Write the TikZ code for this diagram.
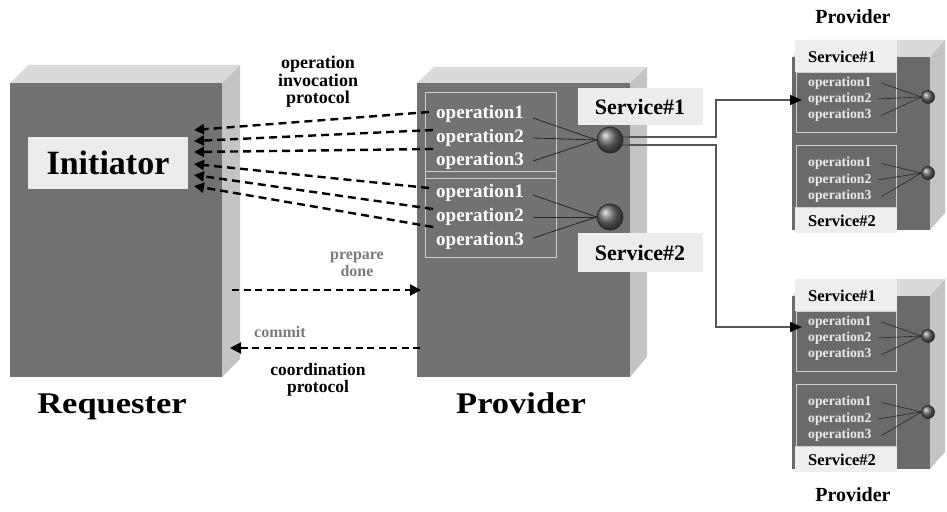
\documentclass[tikz,border=0pt]{standalone}
\usepackage{fontspec}
\usepackage{graphicx}
\setmainfont{Liberation Serif}
\usetikzlibrary{arrows.meta}
\definecolor{frontgray}{HTML}{727272}
\definecolor{topgray}{HTML}{DADADA}
\definecolor{sidegray}{HTML}{C4C4C4}
\definecolor{labelgray}{HTML}{ECECEC}
\definecolor{opsgray}{HTML}{CFCFCF}
\definecolor{rfront}{HTML}{6A6A6A}
\definecolor{panelgray}{HTML}{EEEEEE}
\definecolor{conngray}{HTML}{555555}
\definecolor{notegray}{HTML}{7A7A7A}
\begin{document}
\begin{tikzpicture}[x=1pt,y=-1pt,
  txt/.style={inner sep=0pt, font=\bfseries},
  optxt/.style={inner sep=0pt, text=white, anchor=west, font=\bfseries\fontsize{19}{19}\selectfont},
  roptxt/.style={inner sep=0pt, text=white!92!black, anchor=west, font=\bfseries\fontsize{13.7}{13.7}\selectfont},
  labelbox/.style={fill=labelgray, inner sep=0pt},
  opsline/.style={draw=opsgray, line width=1pt},
  ballnode/.style={circle, draw=black!85, line width=0.8pt, shading=ball, ball color=gray!85!black, inner sep=0pt},
  wire/.style={draw=black!85, line width=0.8pt},
  dasharrow/.style={draw=black, line width=2.4pt, dash pattern=on 8pt off 5pt, -{Triangle[length=10pt,width=10pt]}},
  dasharrowb/.style={draw=black, line width=2.2pt, dash pattern=on 7pt off 4.5pt, -{Triangle[length=11pt,width=11pt]}},
  conn/.style={draw=conngray, line width=1.3pt, -{Triangle[length=12pt,width=10pt,color=black]}},
]
\useasboundingbox (0,0) rectangle (947,511);

% ---------- Requester box ----------
\fill[topgray] (10,83) -- (28,65) -- (240,65) -- (222,83) -- cycle;
\fill[sidegray] (222,83) -- (240,65) -- (240,359) -- (222,377) -- cycle;
\fill[frontgray] (10,83) rectangle (222,377);
\node[labelbox, minimum width=160pt, minimum height=52pt, font=\bfseries\fontsize{34}{34}\selectfont] (init) at (108,163) {Initiator};

% ---------- Provider box (middle) ----------
\fill[topgray] (417,83) -- (434,67) -- (647,67) -- (630,83) -- cycle;
\fill[sidegray] (630,83) -- (647,67) -- (647,357) -- (630,377) -- cycle;
\fill[frontgray] (417,83) rectangle (630,377);
\draw[opsline] (425,92) rectangle (556,257);
\draw[opsline] (425,171) -- (556,171);
\draw[opsline] (425,178) -- (556,178);

\node[optxt] (ma1) at (436,114) {operation1};
\node[optxt] (ma2) at (436,138) {operation2};
\node[optxt] (ma3) at (436,161) {operation3};
\node[optxt] (mb1) at (436,193) {operation1};
\node[optxt] (mb2) at (436,217) {operation2};
\node[optxt] (mb3) at (436,241) {operation3};

\node[ballnode, minimum size=26pt] (sa) at (610,140) {};
\node[ballnode, minimum size=26pt] (sb) at (610,217) {};

\draw[wire] ([xshift=9pt,yshift=-4pt]ma1.east) -- (sa.west);
\draw[wire] ([xshift=9pt]ma2.east) -- (sa.west);
\draw[wire] ([xshift=9pt]ma3.east) -- (sa.west);
\draw[wire] ([xshift=9pt,yshift=-2pt]mb1.east) -- (sb.west);
\draw[wire] ([xshift=9pt]mb2.east) -- (sb.west);
\draw[wire] ([xshift=9pt,yshift=3pt]mb3.east) -- (sb.west);

\node[labelbox, minimum width=125pt, minimum height=37pt, font=\bfseries\fontsize{22}{22}\selectfont] (sv1) at (640,106.5) {Service\#1};
\node[labelbox, minimum width=125pt, minimum height=39pt, font=\bfseries\fontsize{22}{22}\selectfont] (sv2) at (640,252.5) {Service\#2};

% ---------- Right providers ----------
\foreach \dy/\n in {0/a,239/b}{
  \begin{scope}[shift={(0,\dy)}]
    \fill[topgray] (792,57) -- (809,40) -- (945,40) -- (930,57) -- cycle;
    \fill[sidegray] (930,57) -- (945,40) -- (945,213) -- (930,230) -- cycle;
    \fill[rfront] (792,57) rectangle (930,230);
    \fill[panelgray] (795,40) rectangle (897,233);
    \fill[rfront] (795,72) rectangle (897,207);
    \draw[opsline] (796,72) rectangle (896,132);
    \draw[opsline] (796,145) rectangle (896,207);
    \node[txt, font=\bfseries\fontsize{16.5}{16.5}\selectfont] (r\n sv1) at (842,57) {Service\#1};
    \node[txt, font=\bfseries\fontsize{16.5}{16.5}\selectfont] (r\n sv2) at (842,221) {Service\#2};
    \node[roptxt] (r\n a1) at (808,83) {operation1};
    \node[roptxt] (r\n a2) at (808,99) {operation2};
    \node[roptxt] (r\n a3) at (808,115.5) {operation3};
    \node[roptxt] (r\n b1) at (808,163.5) {operation1};
    \node[roptxt] (r\n b2) at (808,180) {operation2};
    \node[roptxt] (r\n b3) at (808,196.5) {operation3};
    \node[ballnode, minimum size=13pt, line width=0.6pt] (r\n sa) at (928,97) {};
    \node[ballnode, minimum size=13pt, line width=0.6pt] (r\n sb) at (928,173) {};
    \draw[wire, line width=0.6pt] ([xshift=10pt]r\n a1.east) -- (r\n sa.west);
    \draw[wire, line width=0.6pt] ([xshift=6pt]r\n a2.east) -- (r\n sa.west);
    \draw[wire, line width=0.6pt] ([xshift=10pt]r\n a3.east) -- (r\n sa.west);
    \draw[wire, line width=0.6pt] ([xshift=10pt]r\n b1.east) -- (r\n sb.west);
    \draw[wire, line width=0.6pt] ([xshift=6pt]r\n b2.east) -- (r\n sb.west);
    \draw[wire, line width=0.6pt] ([xshift=10pt]r\n b3.east) -- (r\n sb.west);
  \end{scope}
}
\node[txt, font=\bfseries\fontsize{20}{20}\selectfont] (ptop) at (853,17) {Provider};
\node[txt, font=\bfseries\fontsize{20}{20}\selectfont] (pbot) at (853,495) {Provider};

% ---------- connectors to right providers ----------
\coordinate (turn) at (716,0);
\coordinate (ta) at (802,100);
\coordinate (tb) at (802,327);
\draw[conn] ([yshift=3pt]sa.east) -| (turn |- ta) -- (ta);
\draw[conn] ([yshift=-5pt]sa.east) -| (turn |- tb) -- (tb);

% ---------- operation invocation dashed arrows ----------
\coordinate (e1) at (429,112);
\coordinate (e2) at (433,130);
\coordinate (e3) at (433,149);
\coordinate (e4) at (429,188);
\coordinate (e5) at (433,209);
\coordinate (e6) at (433,227);
\coordinate (h1) at (194,130);
\coordinate (h2) at (194,141);
\coordinate (h3) at (194,152);
\coordinate (h4) at (194,164);
\coordinate (h5) at (194,175);
\coordinate (h6) at (194,186);
\foreach \k in {1,...,6}{\draw[dasharrow] (e\k) -- (h\k);}

\node[txt, align=center, font=\bfseries\fontsize{18}{17.5}\selectfont] (oip) at (318,82) {operation\\invocation\\protocol};

% ---------- coordination protocol ----------
\coordinate (p1) at (232,290);
\coordinate (p2) at (421,290);
\coordinate (c1) at (420,348);
\coordinate (c2) at (230,348);
\draw[dasharrowb] (p1) -- (p2);
\draw[dasharrowb] (c1) -- (c2);
\node[txt, text=notegray, align=center, font=\bfseries\fontsize{16}{17}\selectfont] (pd) at (357,264) {prepare\\done};
\node[txt, text=notegray, font=\bfseries\fontsize{16}{16}\selectfont] (cm) at (280,332) {commit};
\node[txt, align=center, font=\bfseries\fontsize{17.5}{17}\selectfont] (cp) at (318,380) {coordination\\protocol};

% ---------- bottom labels ----------
\node[txt, anchor=base] (req) at (112,413) {\scalebox{1.15}[1]{\fontsize{30}{30}\selectfont Requester}};
\node[txt, anchor=base] (prov) at (521,413) {\scalebox{1.15}[1]{\fontsize{30}{30}\selectfont Provider}};
\end{tikzpicture}
\end{document}
